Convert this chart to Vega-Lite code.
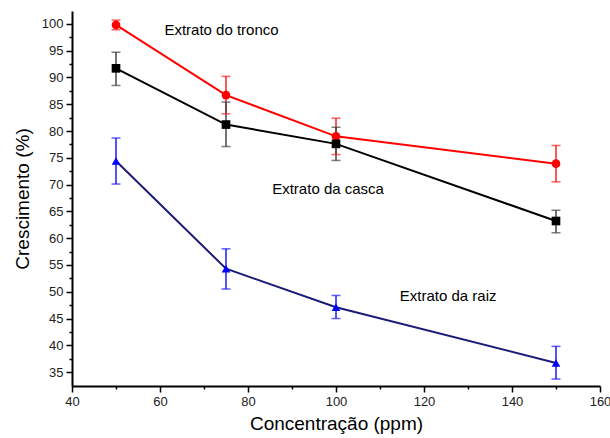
{
  "$schema": "https://vega.github.io/schema/vega-lite/v6.json",
  "width": 528,
  "height": 375,
  "autosize": "none",
  "padding": {"left": 72, "top": 11, "right": 10, "bottom": 52},
  "background": "white",
  "config": {
    "view": {"stroke": null},
    "font": "Liberation Sans",
    "axis": {
      "grid": false,
      "domainColor": "black",
      "domainWidth": 2,
      "tickColor": "black",
      "tickWidth": 1.5,
      "labelFlush": false,
      "labelOverlap": false,
      "labelFont": "Liberation Sans",
      "labelFontSize": 13,
      "labelColor": "#222",
      "titleFont": "Liberation Sans",
      "titleFontSize": 19,
      "titleFontWeight": "normal",
      "titleColor": "black"
    }
  },
  "datasets": {
    "pts": [
      {"serie": "Extrato do tronco", "x": 50, "y": 99.8, "lo": 98.9, "hi": 100.7},
      {"serie": "Extrato do tronco", "x": 75, "y": 86.7, "lo": 83.2, "hi": 90.2},
      {"serie": "Extrato do tronco", "x": 100, "y": 79.0, "lo": 75.6, "hi": 82.4},
      {"serie": "Extrato do tronco", "x": 150, "y": 73.9, "lo": 70.5, "hi": 77.3},
      {"serie": "Extrato da casca", "x": 50, "y": 91.7, "lo": 88.5, "hi": 94.7},
      {"serie": "Extrato da casca", "x": 75, "y": 81.2, "lo": 77.1, "hi": 85.4},
      {"serie": "Extrato da casca", "x": 100, "y": 77.6, "lo": 74.5, "hi": 80.7},
      {"serie": "Extrato da casca", "x": 150, "y": 63.2, "lo": 61.0, "hi": 65.2},
      {"serie": "Extrato da raiz", "x": 50, "y": 74.4, "lo": 70.1, "hi": 78.7},
      {"serie": "Extrato da raiz", "x": 75, "y": 54.3, "lo": 50.5, "hi": 58.0},
      {"serie": "Extrato da raiz", "x": 100, "y": 47.1, "lo": 45.0, "hi": 49.3},
      {"serie": "Extrato da raiz", "x": 150, "y": 36.7, "lo": 33.7, "hi": 39.8}
    ],
    "labels": [
      {"label": "Extrato do tronco", "x": 61, "y": 98.9},
      {"label": "Extrato da casca", "x": 85.5, "y": 69.2},
      {"label": "Extrato da raiz", "x": 114.5, "y": 49.2}
    ]
  },
  "encoding": {
    "x": {
      "type": "quantitative",
      "scale": {"domain": [40, 160], "nice": false, "zero": false},
      "axis": {
        "title": "Concentração (ppm)",
        "values": [40, 50, 60, 70, 80, 90, 100, 110, 120, 130, 140, 150, 160],
        "labelExpr": "datum.value % 20 === 0 ? datum.label : ''",
        "tickSize": {"condition": {"test": "datum.value % 20 === 0", "value": 6}, "value": 3},
        "labelPadding": 3,
        "titlePadding": 6
      }
    },
    "y": {
      "type": "quantitative",
      "scale": {"domain": [32.4, 102.4], "nice": false, "zero": false},
      "axis": {
        "title": "Crescimento (%)",
        "values": [35, 37.5, 40, 42.5, 45, 47.5, 50, 52.5, 55, 57.5, 60, 62.5, 65, 67.5, 70, 72.5, 75, 77.5, 80, 82.5, 85, 87.5, 90, 92.5, 95, 97.5, 100],
        "labelExpr": "datum.value % 5 === 0 ? datum.label : ''",
        "tickSize": {"condition": {"test": "datum.value % 5 === 0", "value": 6}, "value": 3},
        "labelPadding": 3,
        "titlePadding": 9
      }
    }
  },
  "layer": [
    {
      "data": {"name": "pts"},
      "mark": {"type": "rule", "strokeWidth": 1.5},
      "encoding": {
        "x": {"field": "x"},
        "y": {"field": "lo"},
        "y2": {"field": "hi"},
        "color": {"field": "serie", "type": "nominal", "legend": null,
          "scale": {"domain": ["Extrato do tronco", "Extrato da casca", "Extrato da raiz"], "range": ["#ff2020", "#444444", "#1a1aff"]}}
      }
    },
    {
      "data": {"name": "pts"},
      "mark": {"type": "tick", "orient": "horizontal", "size": 9, "thickness": 1.5},
      "encoding": {
        "x": {"field": "x"},
        "y": {"field": "lo"},
        "color": {"field": "serie", "type": "nominal", "legend": null,
          "scale": {"domain": ["Extrato do tronco", "Extrato da casca", "Extrato da raiz"], "range": ["#ff2020", "#444444", "#1a1aff"]}}
      }
    },
    {
      "data": {"name": "pts"},
      "mark": {"type": "tick", "orient": "horizontal", "size": 9, "thickness": 1.5},
      "encoding": {
        "x": {"field": "x"},
        "y": {"field": "hi"},
        "color": {"field": "serie", "type": "nominal", "legend": null,
          "scale": {"domain": ["Extrato do tronco", "Extrato da casca", "Extrato da raiz"], "range": ["#ff2020", "#444444", "#1a1aff"]}}
      }
    },
    {
      "data": {"name": "pts"},
      "mark": {"type": "line", "strokeWidth": 2},
      "encoding": {
        "x": {"field": "x"},
        "y": {"field": "y"},
        "detail": {"field": "serie"},
        "color": {"field": "serie", "type": "nominal", "legend": null,
          "scale": {"domain": ["Extrato do tronco", "Extrato da casca", "Extrato da raiz"], "range": ["#ff0000", "#000000", "#1c1c78"]}}
      }
    },
    {
      "data": {"name": "pts"},
      "mark": {"type": "point", "filled": true, "opacity": 1, "size": 75},
      "encoding": {
        "x": {"field": "x"},
        "y": {"field": "y"},
        "shape": {"field": "serie", "type": "nominal", "legend": null,
          "scale": {"domain": ["Extrato do tronco", "Extrato da casca", "Extrato da raiz"], "range": ["circle", "square", "triangle-up"]}},
        "color": {"field": "serie", "type": "nominal", "legend": null,
          "scale": {"domain": ["Extrato do tronco", "Extrato da casca", "Extrato da raiz"], "range": ["#ff0000", "#000000", "#0000ff"]}}
      }
    },
    {
      "data": {"name": "labels"},
      "mark": {"type": "text", "align": "left", "baseline": "middle", "fontSize": 15, "font": "Liberation Sans", "color": "black"},
      "encoding": {
        "x": {"field": "x"},
        "y": {"field": "y"},
        "text": {"field": "label"}
      }
    }
  ],
  "resolve": {"scale": {"color": "independent"}}
}
